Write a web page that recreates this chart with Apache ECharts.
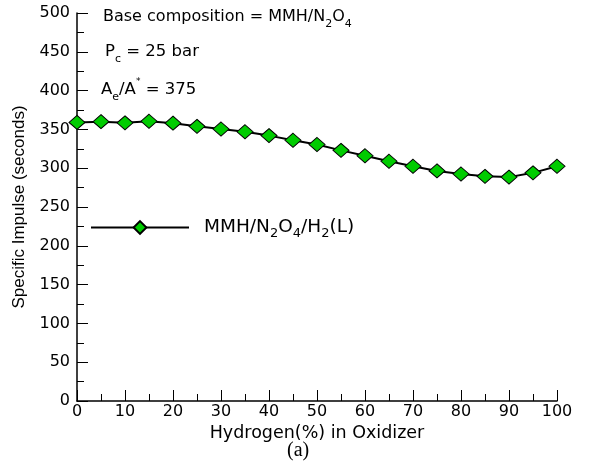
<!DOCTYPE html>
<html>
<head>
<meta charset="utf-8">
<script src="https://cdn.jsdelivr.net/npm/echarts@6/dist/echarts.min.js"></script>
<style>
  html, body { margin: 0; padding: 0; background: #fff; }
  #chart { width: 606px; height: 466px; }
</style>
</head>
<body>
<div id="chart"></div>
<script>
// hydrogen fraction in oxidizer (%)
var hydrogenPct = [0, 5, 10, 15, 20, 25, 30, 35, 40, 45, 50, 55, 60, 65, 70, 75, 80, 85, 90, 95, 100];
// specific impulse (s)
var ispValues = [359, 360, 358.5, 360.5, 358, 354, 350.5, 347, 342, 336, 330.5, 323, 316, 309, 302.5, 296.5, 292.5, 289.5, 288.5, 294, 302.5];
var xTicks = [0, 100, 10];
var yTicks = [0, 500, 50];

var wide = '"DejaVu Sans", Verdana, sans-serif';
var narrow = '"Liberation Sans", Arial, sans-serif';

function richSet(size, subSize) {
  return {
    a: { fontSize: size, fontFamily: wide, color: '#000', lineHeight: 20 },
    s: { fontSize: subSize, fontFamily: wide, color: '#000', verticalAlign: 'bottom', lineHeight: 12, padding: [0, 0, -3, 0] },
    p: { fontSize: subSize - 2, fontFamily: wide, color: '#000', verticalAlign: 'top', lineHeight: 12, padding: [-3, 0, 0, 0] }
  };
}

var points = hydrogenPct.map(function (x, i) { return [x, ispValues[i]]; });

var chart = echarts.init(document.getElementById('chart'));
var option = {
  animation: false,
  backgroundColor: '#fff',
  grid: { left: 77, right: 49, top: 13, bottom: 65 },
  legend: {
    left: 85, top: 213,
    itemWidth: 98, itemHeight: 16,
    data: ['MMH/N2O4/H2(L)'],
    formatter: function () {
      return '{a|MMH/N}{s|2}{a|O}{s|4}{a|/H}{s|2}{a|(L)}';
    },
    textStyle: { padding: [0, 0, 0, 10], rich: richSet(18.5, 13) }
  },
  xAxis: {
    type: 'value', min: xTicks[0], max: xTicks[1], interval: xTicks[2],
    name: 'Hydrogen(%) in Oxidizer', nameLocation: 'middle', nameGap: 23,
    nameTextStyle: { fontSize: 17.5, fontFamily: wide, color: '#000' },
    axisLine: { lineStyle: { color: '#000', width: 1.5 } },
    axisTick: { inside: true, length: 11, lineStyle: { color: '#000' } },
    minorTick: { show: true, splitNumber: 2, length: 7, lineStyle: { color: '#000' } },
    axisLabel: { fontSize: 16, fontFamily: wide, color: '#000', margin: 3 },
    splitLine: { show: false }
  },
  yAxis: {
    type: 'value', min: yTicks[0], max: yTicks[1], interval: yTicks[2],
    name: 'Specific Impulse (seconds)', nameLocation: 'middle', nameGap: 49,
    nameTextStyle: { fontSize: 17, fontFamily: narrow, color: '#000' },
    axisLine: { show: true, lineStyle: { color: '#000', width: 1.5 } },
    axisTick: { show: true, inside: true, length: 11, lineStyle: { color: '#000' } },
    minorTick: { show: true, splitNumber: 2, length: 7, lineStyle: { color: '#000' } },
    axisLabel: { fontSize: 16, fontFamily: wide, color: '#000', margin: 7 },
    splitLine: { show: false }
  },
  graphic: [
    { type: 'text', left: 103, top: 9, style: { text: '{a|Base composition = MMH/N}{s|2}{a|O}{s|4}', rich: richSet(16, 11) } },
    { type: 'text', left: 105, top: 43, style: { text: '{a|P}{s|c}{a| = 25 bar}', rich: richSet(16.5, 11) } },
    { type: 'text', left: 101, top: 77, style: { text: '{a|A}{s|e}{a|/A}{p|*}{a| = 375}', rich: richSet(16.5, 11) } },
    { type: 'text', left: 287, top: 441, style: { text: '(a)', font: '20px "Liberation Serif", serif', fill: '#000' } }
  ],
  series: [{
    name: 'MMH/N2O4/H2(L)',
    type: 'line',
    data: points,
    symbol: 'diamond',
    symbolSize: [16, 14],
    lineStyle: { color: '#000', width: 2 },
    itemStyle: { color: '#00cc00', borderColor: '#000', borderWidth: 1 }
  }]
};
chart.setOption(option);
</script>
</body>
</html>
